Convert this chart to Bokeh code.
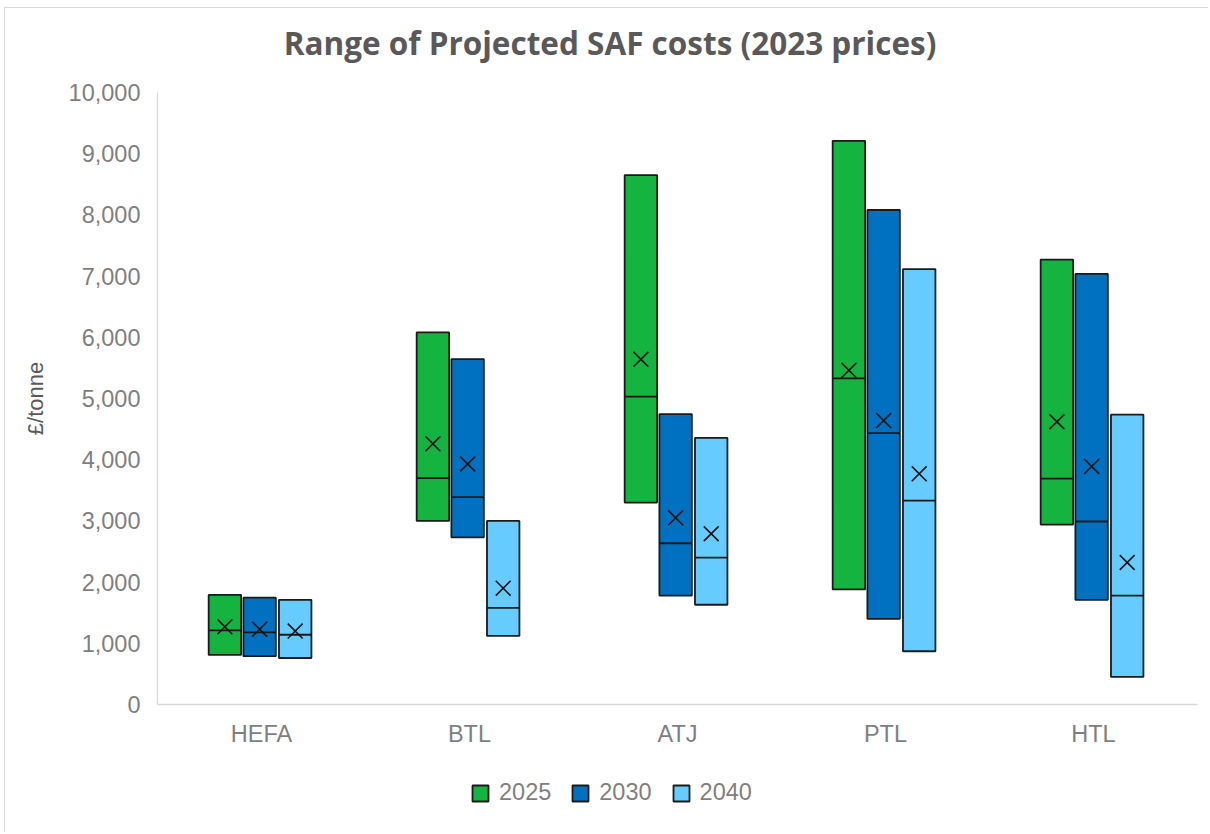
from bokeh.plotting import figure
from bokeh.layouts import column
from bokeh.models import (FactorRange, NumeralTickFormatter, FixedTicker, Range1d, Label,
                          Legend, LegendItem, ColumnDataSource, InlineStyleSheet)
from bokeh.transform import dodge
from bokeh.embed import file_html
from bokeh.resources import INLINE

categories = ["HEFA", "BTL", "ATJ", "PTL", "HTL"]
years = ["2025", "2030", "2040"]

low_2025 = [810, 3000, 3300, 1880, 2940]
high_2025 = [1790, 6080, 8650, 9210, 7270]
median_2025 = [1210, 3700, 5030, 5330, 3690]
mean_2025 = [1270, 4260, 5640, 5460, 4620]

low_2030 = [790, 2730, 1780, 1400, 1710]
high_2030 = [1745, 5645, 4745, 8080, 7035]
median_2030 = [1180, 3390, 2635, 4435, 2990]
mean_2030 = [1230, 3930, 3050, 4640, 3890]

low_2040 = [760, 1120, 1630, 870, 450]
high_2040 = [1710, 3000, 4355, 7115, 4735]
median_2040 = [1140, 1580, 2400, 3330, 1780]
mean_2040 = [1200, 1900, 2790, 3770, 2320]

y_ticks = [0, 1000, 2000, 3000, 4000, 5000, 6000, 7000, 8000, 9000, 10000]

colors = ["#15B340", "#0070C0", "#66CCFF"]
offsets = [-0.176, -0.009, 0.162]
bar_w = 0.156

series = [
    (low_2025, high_2025, median_2025, mean_2025),
    (low_2030, high_2030, median_2030, mean_2030),
    (low_2040, high_2040, median_2040, mean_2040),
]

LABEL_FONT = "Liberation Sans"
GRAY = "#7F7F7F"
FS = "23.5px"

W, HT, H1, H2 = 1208, 70, 690, 72


def strip(height):
    f = figure(width=W, height=height, x_range=Range1d(0, 1), y_range=Range1d(0, 1),
               x_axis_type=None, y_axis_type=None, output_backend="svg",
               toolbar_location=None, min_border=0, title=None)
    f.outline_line_color = None
    f.xgrid.grid_line_color = None
    f.ygrid.grid_line_color = None
    f.background_fill_color = "white"
    f.border_fill_color = "white"
    return f


# title strip (frame aligned with the chart frame)
t = strip(HT)
t.add_layout(Label(x=452.5, y=28, x_units="screen", y_units="screen",
                   text="Range of Projected SAF costs (2023 prices)",
                   text_font="Open Sans", text_font_style="bold", text_font_size="31.5px",
                   text_color="#595959", text_align="center", text_baseline="alphabetic"))

p = figure(width=W, height=H1, x_range=FactorRange(factors=categories, range_padding=0),
           y_range=(0, 10000), output_backend="svg", toolbar_location=None, title=None,
           min_border_left=157, min_border_right=W - 1197, min_border_top=92 - HT,
           min_border_bottom=H1 - (704 - HT))
p.outline_line_color = None
p.xgrid.grid_line_color = None
p.ygrid.grid_line_color = None
p.background_fill_color = "white"
p.border_fill_color = "white"

yax = p.yaxis[0]
yax.ticker = FixedTicker(ticks=y_ticks)
yax.formatter = NumeralTickFormatter(format="0,0")
yax.axis_line_color = "#D9D9D9"
yax.axis_line_width = 1.3
yax.major_tick_line_color = None
yax.minor_tick_line_color = None
yax.major_tick_out = 0
yax.major_tick_in = 0
yax.major_label_standoff = 17
yax.major_label_text_font = LABEL_FONT
yax.major_label_text_font_size = FS
yax.major_label_text_color = GRAY
yax.axis_label = "£/tonne"
yax.axis_label_standoff = 18
yax.axis_label_text_font = LABEL_FONT
yax.axis_label_text_font_size = "22px"
yax.axis_label_text_font_style = "normal"
yax.axis_label_text_color = "#595959"

xax = p.xaxis[0]
xax.axis_line_color = "#D9D9D9"
xax.axis_line_width = 1.3
xax.major_tick_line_color = None
xax.minor_tick_line_color = None
xax.major_tick_out = 0
xax.major_tick_in = 0
xax.major_label_standoff = 16
xax.major_label_text_font = LABEL_FONT
xax.major_label_text_font_size = FS
xax.major_label_text_color = GRAY

# legend strip below the chart
q = strip(H2)

legend_items = []
for yr, col, off, (lo, hi, med, mn) in zip(years, colors, offsets, series):
    src = ColumnDataSource(dict(cat=categories, lo=lo, hi=hi, med=med, mn=mn))
    p.vbar(x=dodge("cat", off, range=p.x_range), bottom="lo", top="hi", width=bar_w,
           source=src, fill_color=col, line_color="#1A1A1A", line_width=1.8)
    p.segment(x0=dodge("cat", off - bar_w / 2, range=p.x_range), y0="med",
              x1=dodge("cat", off + bar_w / 2, range=p.x_range), y1="med",
              source=src, line_color="#1A1A1A", line_width=1.8)
    p.scatter(x=dodge("cat", off, range=p.x_range), y="mn", source=src, marker="x",
              size=21, line_color="#111111", line_width=1.6)
    # hidden legend-key renderer (only its swatch is shown by the legend)
    key = q.vbar(x=[0.5], bottom=[0.2], top=[0.8], width=0.1, fill_color=col,
                 line_color="#1A1A1A", line_width=1.8, visible=False)
    legend_items.append(LegendItem(label=yr, renderers=[key]))

legend = Legend(items=legend_items, orientation="horizontal", location=(313, 26),
                glyph_width=20, glyph_height=20, label_standoff=9, spacing=19,
                padding=0, margin=0, border_line_color=None, background_fill_alpha=0,
                inactive_fill_alpha=0,
                label_text_font=LABEL_FONT, label_text_font_size=FS,
                label_text_color=GRAY)
q.add_layout(legend, "center")

frame_css = InlineStyleSheet(css=""":host { position: relative; }
:host::after { content: ""; position: absolute; left: 4px; top: 7px; right: 0px; bottom: 0px;
  border-left: 1px solid #D9D9D9; border-top: 1px solid #D9D9D9;
  pointer-events: none; z-index: 100; }""")
layout = column(t, p, q, spacing=0, stylesheets=[frame_css])

open("out.html", "w").write(file_html(layout, INLINE))
